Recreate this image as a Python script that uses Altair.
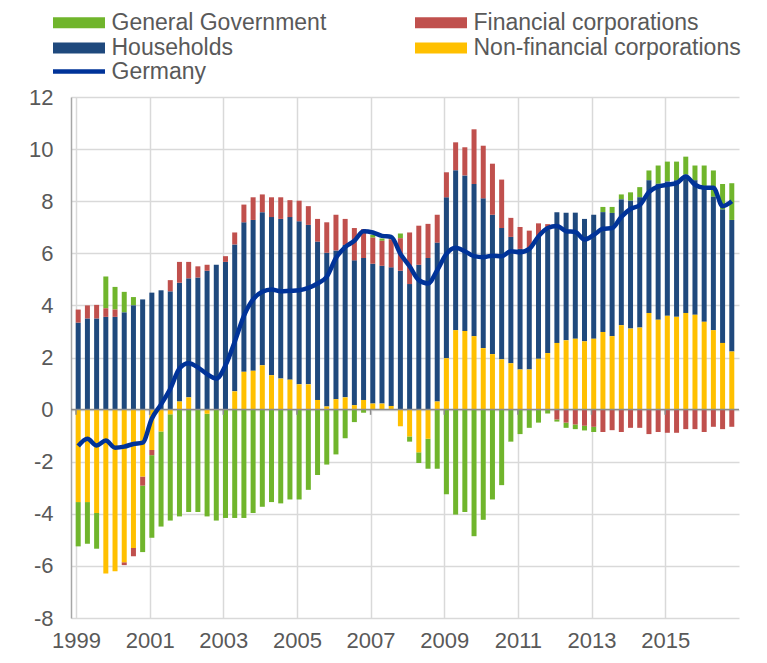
import altair as alt
import pandas as pd

# Quarterly data, 1999Q1 .. 2016Q4
start_year = 1999
n_quarters = 72

gen_gov = [-1.7, -1.6, -1.37, 1.22, 0.87, 0.79, 0.32, -2.55,
           -3.17, -3.65, -4.08, -4.1, -3.93, -3.93, -3.94, -4.26,
           -4.16, -4.16, -4.16, -3.97, -3.73, -3.55, -3.6, -3.45,
           -3.45, -3.08, -2.51, -2.11, -1.72, -1.1, -0.48, -0.12,
           0.11, 0.09, 0.05, 0.18, -0.2, -0.41, -1.15, -2.27,
           -3.25, -4.03, -3.93, -4.86, -4.23, -3.45, -2.9, -1.23,
           -0.94, -0.7, -0.5, -0.15, -0.08, -0.2, -0.18, -0.18,
           -0.2, 0.2, 0.23, 0.19, 0.32, 0.39, 0.38, 0.7,
           0.76, 0.72, 0.69, 0.57, 0.81, 1.01, 0.98, 1.41]

fin_corp = [0.5, 0.5, 0.52, 0.33, 0.28, -0.11, -0.32, -0.35,
            -0.2, 0.0, 0.43, 0.8, 0.63, 0.43, 0.23, 0.0,
            0.22, 0.46, 0.68, 0.87, 0.68, 0.76, 0.83, 0.65,
            0.79, 0.72, 0.87, 1.17, 1.37, 1.0, 1.24, 1.11,
            1.0, 0.96, 1.08, 1.25, 1.98, 1.5, 1.31, 1.07,
            0.96, 1.07, 1.08, 2.1, 2.02, 1.96, 1.86, 0.73,
            0.84, 0.7, 0.5, 0.22, -0.38, -0.5, -0.57, -0.62,
            -0.66, -0.86, -0.79, -0.86, -0.7, -0.7, -0.94, -0.86,
            -0.89, -0.89, -0.75, -0.75, -0.86, -0.66, -0.75, -0.66]

households = [3.34, 3.5, 3.5, 3.56, 3.56, 3.73, 4.0, 4.23,
              4.49, 4.58, 4.54, 4.56, 4.57, 5.07, 5.33, 5.56,
              5.67, 5.64, 5.74, 5.79, 5.88, 6.07, 6.13, 6.24,
              6.26, 6.12, 6.08, 5.9, 5.71, 5.85, 5.56, 5.45,
              5.37, 5.29, 5.32, 5.33, 4.82, 5.56, 5.82, 6.1,
              6.18, 6.14, 5.97, 5.84, 5.75, 5.35, 5.04, 4.85,
              4.63, 4.63, 4.7, 4.73, 5.02, 4.9, 4.84, 4.7,
              4.76, 4.6, 4.73, 4.83, 4.91, 5.0, 5.09, 5.22,
              5.16, 5.24, 5.31, 5.16, 5.19, 5.12, 5.12, 5.05]

nonfin_corp = [-3.55, -3.55, -3.97, -6.29, -6.21, -5.86, -5.31, -2.57,
               -1.55, -0.84, -0.18, 0.31, 0.47, 0.0, -0.16, 0.0,
               0.0, 0.7, 1.45, 1.49, 1.7, 1.32, 1.19, 1.15,
               0.97, 0.97, 0.37, 0.12, 0.4, 0.47, 0.17, 0.37,
               0.23, 0.23, 0.14, -0.64, -1.03, -1.64, -1.12, 0.31,
               1.97, 3.05, 3.02, 2.82, 2.36, 2.13, 1.93, 1.78,
               1.54, 1.54, 1.95, 2.17, 2.56, 2.66, 2.72, 2.62,
               2.72, 2.98, 2.82, 3.24, 3.11, 3.15, 3.71, 3.45,
               3.6, 3.56, 3.71, 3.64, 3.37, 3.05, 2.56, 2.23]

germany = [-1.4, -1.12, -1.38, -1.19, -1.46, -1.42, -1.32, -1.27,
           -0.34, 0.2, 0.8, 1.58, 1.78, 1.62, 1.36, 1.19,
           1.7, 2.6, 3.6, 4.23, 4.52, 4.61, 4.54, 4.56,
           4.58, 4.67, 4.84, 5.1, 5.82, 6.24, 6.48, 6.85,
           6.8, 6.67, 6.63, 5.98, 5.5, 4.97, 4.84, 5.35,
           5.98, 6.21, 6.08, 5.89, 5.85, 5.91, 5.89, 6.08,
           6.04, 6.17, 6.65, 6.97, 7.05, 6.85, 6.82, 6.53,
           6.7, 6.94, 6.97, 7.4, 7.7, 7.85, 8.35, 8.56,
           8.63, 8.69, 8.95, 8.63, 8.52, 8.52, 7.81, 8.0]

# legend order (column-major in a 2-column legend)
sectors = ["General Government", "Households",
           "Financial corporations", "Non-financial corporations"]
sector_colors = ["#70b52c", "#1f497d", "#c0504d", "#ffc000"]
stack_order = {"Non-financial corporations": 0, "Households": 1,
               "Financial corporations": 2, "General Government": 3}
tick_years = list(range(1999, 2017))
label_years = list(range(1999, 2016, 2))
y_ticks = list(range(-8, 13, 2))

series_values = {
    "General Government": gen_gov,
    "Financial corporations": fin_corp,
    "Households": households,
    "Non-financial corporations": nonfin_corp,
}

times = [start_year + i / 4 + 0.06 for i in range(n_quarters)]
rows = []
for i, t in enumerate(times):
    for s in sectors:
        rows.append({"t": t, "sector": s, "value": series_values[s][i],
                     "ord": stack_order[s]})
bars_df = pd.DataFrame(rows)
line_df = pd.DataFrame({"t": times, "value": germany, "series": "Germany"})
ticks_df = pd.DataFrame({"t": label_years})

FONT = "Liberation Sans"
TXT = "#595959"
GRID = "#d9d9d9"
LEG_FS = 23

x_scale = alt.Scale(domain=[1999, 2016.87], nice=False, zero=False)
y_scale = alt.Scale(domain=[-8, 12], nice=False)

x_axis = alt.Axis(values=tick_years, format="d",
                  labelExpr="datum.value % 2 == 1 ? datum.label : ''",
                  grid=True, gridColor=GRID, gridWidth=1.5, domain=False,
                  ticks=False, labelFontSize=22, labelColor=TXT, labelFont=FONT,
                  labelPadding=12, title=None, labelFlush=False)
y_axis = alt.Axis(values=y_ticks, grid=True, gridColor=GRID, gridWidth=1.5,
                  domain=True, domainColor="#a6a6a6", domainWidth=1.5,
                  ticks=False, labelFontSize=22, labelColor=TXT, labelFont=FONT,
                  labelExpr="toString(datum.value)",
                  labelPadding=18, title=None)

bars = alt.Chart(bars_df).mark_bar(size=5).encode(
    x=alt.X("t:Q", scale=x_scale, axis=x_axis),
    y=alt.Y("value:Q", stack="zero", scale=y_scale, axis=y_axis),
    color=alt.Color("sector:N",
                    scale=alt.Scale(domain=sectors, range=sector_colors),
                    legend=alt.Legend(
                        title=None, orient="none", legendX=-3.5, legendY=-86,
                        columns=2, columnPadding=88, rowPadding=1.5,
                        symbolType="M-4,-0.85H4V0.85H-4Z", symbolSize=169,
                        symbolStrokeWidth=0, symbolOpacity=1,
                        labelFontSize=LEG_FS, labelColor=TXT, labelFont=FONT,
                        labelLimit=400, labelOffset=21)),
    order=alt.Order("ord:Q", sort="ascending"),
)

zero_rule = alt.Chart(pd.DataFrame({"v": [0]})).mark_rule(
    color="#8c8c8c", strokeWidth=1.5).encode(y=alt.Y("v:Q", scale=y_scale))

tick_marks = alt.Chart(ticks_df).mark_rule(color="#8c8c8c", strokeWidth=1.5).encode(
    x=alt.X("t:Q", scale=x_scale),
    y=alt.datum(0, scale=y_scale),
    y2=alt.datum(-0.2),
)

line = alt.Chart(line_df).mark_line(strokeWidth=4.5, interpolate="monotone").encode(
    x=alt.X("t:Q", scale=x_scale),
    y=alt.Y("value:Q", scale=y_scale),
    stroke=alt.Stroke("series:N",
                      scale=alt.Scale(domain=["Germany"], range=["#003399"]),
                      legend=alt.Legend(
                          title=None, orient="none", legendX=-3.5, legendY=-37,
                          symbolType="M-4,0H4", symbolSize=169,
                          symbolStrokeWidth=4.5,
                          labelFontSize=LEG_FS, labelColor=TXT, labelFont=FONT,
                          labelLimit=400, labelOffset=21)),
)

chart = alt.layer(bars, zero_rule, tick_marks, line).properties(
    width=668, height=521,
    padding={"left": 63, "top": 89, "right": 20, "bottom": 34},
    autosize=alt.AutoSizeParams(type="none"),
).configure_view(stroke=None).configure_legend(padding=0)

chart.save("out.html", embed_options={"renderer": "svg", "actions": False})
